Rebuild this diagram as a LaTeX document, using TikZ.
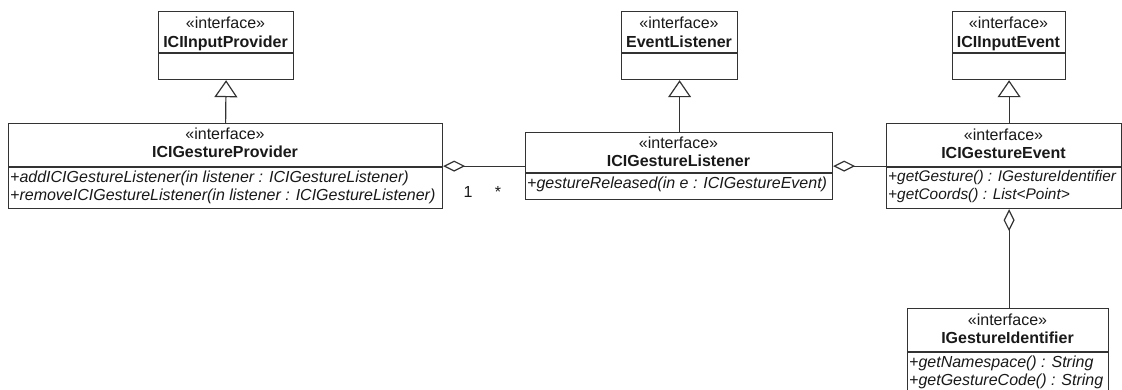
\documentclass[tikz,border=0pt]{standalone}
\usepackage{fontspec}
\setmainfont{Liberation Sans}
\usetikzlibrary{arrows.meta}
\tikzset{
  box/.style={draw=black!80, line width=1.2pt, fill=white, inner sep=0pt, anchor=north west},
  divider/.style={draw=black!80, line width=1.2pt},
  txt/.style={inner sep=0pt, text=black!90, font=\fontsize{16}{18}\selectfont},
  stereo/.style={txt, anchor=base},
  cname/.style={txt, anchor=base, font=\fontsize{16}{18}\selectfont\bfseries},
  meth/.style={txt, anchor=base west, font=\fontsize{16}{18}\selectfont\itshape},
  smallmeth/.style={meth, font=\fontsize{15.4}{18}\selectfont\itshape},
  inh/.style={draw=black!80, line width=1.2pt, -{Triangle[open, length=17pt, width=23pt]}},
  agg/.style={draw=black!80, line width=1.2pt, -{Diamond[open, length=22pt, width=11pt]}},
  mult/.style={txt, anchor=base}
}
\begin{document}
\begin{tikzpicture}[x=1pt,y=-1pt]
\useasboundingbox (0,0) rectangle (1122,389);
% top boxes
\node[box, minimum width=135pt, minimum height=68pt] (inprov) at (158,11) {};
\draw[divider] (158,53) -- (293,53);
\node[stereo] (inprov-s) at (225.5,28) {«interface»};
\node[cname] (inprov-n) at (225.5,47) {ICIInputProvider};

\node[box, minimum width=116pt, minimum height=68pt] (evlist) at (621,11) {};
\draw[divider] (621,53) -- (737,53);
\node[stereo] (evlist-s) at (679,28) {«interface»};
\node[cname] (evlist-n) at (679,47) {EventListener};

\node[box, minimum width=113pt, minimum height=68pt] (inevent) at (952,11) {};
\draw[divider] (952,53) -- (1065,53);
\node[stereo] (inevent-s) at (1008.5,28) {«interface»};
\node[cname] (inevent-n) at (1008.5,47) {ICIInputEvent};

% provider
\node[box, minimum width=434pt, minimum height=85pt] (prov) at (8,123) {};
\draw[divider] (8,167) -- (442,167);
\node[stereo] (prov-s) at (225,139) {«interface»};
\node[cname] (prov-n) at (225,157) {ICIGestureProvider};
\node[meth] (prov-m1) at (10,182) {+addICIGestureListener(in listener : ICIGestureListener)};
\node[meth] (prov-m2) at (10,200) {+removeICIGestureListener(in listener : ICIGestureListener)};

% listener
\node[box, minimum width=307pt, minimum height=67pt] (listener) at (525,132) {};
\draw[divider] (525,173) -- (832,173);
\node[stereo] (listener-s) at (678.5,148) {«interface»};
\node[cname] (listener-n) at (678.5,166) {ICIGestureListener};
\node[meth] (listener-m1) at (527,188) {+gestureReleased(in e : ICIGestureEvent)};

% event
\node[box, minimum width=235pt, minimum height=85pt] (event) at (886,123) {};
\draw[divider] (886,167) -- (1121,167);
\node[stereo] (event-s) at (1003.5,140) {«interface»};
\node[cname] (event-n) at (1003.5,158) {ICIGestureEvent};
\node[smallmeth] (event-m1) at (888,181) {+getGesture() : IGestureIdentifier};
\node[smallmeth] (event-m2) at (888,199) {+getCoords() : List<Point>};

% identifier
\node[box, minimum width=201pt, minimum height=84pt] (ident) at (907,308) {};
\draw[divider] (907,352) -- (1108,352);
\node[stereo] (ident-s) at (1007.5,325) {«interface»};
\node[cname] (ident-n) at (1007.5,343) {IGestureIdentifier};
\node[meth] (ident-m1) at (909,367) {+getNamespace() : String};
\node[meth] (ident-m2) at (909,385) {+getGestureCode() : String};

% generalizations
\draw[inh] (prov.north) -- (inprov.south);
\draw[inh] (evlist.south |- listener.north) -- (evlist.south);
\draw[inh] (inevent.south |- event.north) -- (inevent.south);

% aggregations
\draw[agg] (listener.west) -- (prov.east);
\draw[agg] (event.west) -- (listener.east);
\draw[agg] (inevent.south |- ident.north) -- (inevent.south |- event.south);

% multiplicities
\node[mult] (m1) at (468,197) {1};
\node[mult] (m2) at (498,197) {*};
\end{tikzpicture}
\end{document}
